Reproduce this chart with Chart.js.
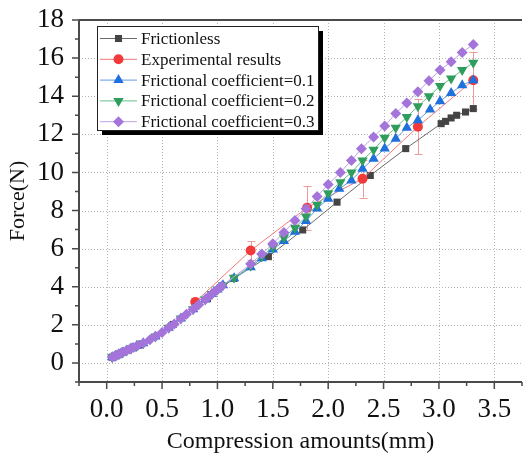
<!DOCTYPE html>
<html>
<head>
<meta charset="utf-8">
<script src="https://cdn.jsdelivr.net/npm/chart.js@4/dist/chart.umd.min.js"></script>
<style>
  html, body { margin: 0; padding: 0; background: #fff; overflow: hidden; }
  #wrap { width: 528px; height: 457px; }
</style>
</head>
<body>
<div id="wrap"><canvas id="forceChart" width="528" height="457"></canvas></div>
<script>
// ---- data ----
const seriesNames = [
  'Frictionless',
  'Experimental results',
  'Frictional coefficient=0.1',
  'Frictional coefficient=0.2',
  'Frictional coefficient=0.3'
];

const frictionlessX = [0.05, 0.30, 0.60, 0.91, 1.15, 1.46, 1.77, 2.08, 2.38, 2.70, 3.02, 3.06, 3.11, 3.16, 3.24, 3.31];
const frictionlessY = [0.30, 0.95, 2.02, 3.38, 4.44, 5.58, 6.98, 8.44, 9.84, 11.25, 12.56, 12.68, 12.86, 13.00, 13.17, 13.35];

const expX = [0.80, 1.30, 1.81, 2.31, 2.81, 3.31];
const expY = [3.20, 5.90, 8.15, 9.67, 12.40, 14.84];
const expErr = [0.20, 0.50, 1.15, 1.00, 1.45, 1.50];

const mu01X = [0.05, 0.08, 0.11, 0.14, 0.18, 0.22, 0.27, 0.33, 0.44, 0.56, 0.67, 0.78, 0.89, 0.95, 1.00, 1.05, 1.15,
  1.30, 1.40, 1.50, 1.60, 1.70, 1.80, 1.90, 2.00, 2.10, 2.21, 2.31, 2.41, 2.51, 2.61, 2.71, 2.81, 2.92, 3.01, 3.11, 3.21, 3.31];
const mu01Y = [0.30, 0.38, 0.46, 0.54, 0.65, 0.76, 0.89, 1.04, 1.39, 1.85, 2.33, 2.82, 3.33, 3.62, 3.86, 4.08, 4.45,
  5.02, 5.50, 5.95, 6.40, 6.88, 7.45, 8.10, 8.62, 9.14, 9.58, 10.19, 10.72, 11.25, 11.77, 12.35, 12.74, 13.30, 13.74, 14.17, 14.58, 14.84];

const mu02X = [0.05, 0.08, 0.11, 0.14, 0.18, 0.22, 0.27, 0.33, 0.44, 0.56, 0.67, 0.78, 0.89, 0.95, 1.00, 1.05, 1.15,
  1.30, 1.40, 1.50, 1.60, 1.70, 1.80, 1.90, 2.00, 2.11, 2.21, 2.31, 2.41, 2.51, 2.61, 2.71, 2.81, 2.91, 3.01, 3.11, 3.21, 3.31];
const mu02Y = [0.30, 0.38, 0.46, 0.54, 0.65, 0.76, 0.89, 1.04, 1.39, 1.85, 2.33, 2.82, 3.33, 3.62, 3.86, 4.08, 4.47,
  5.10, 5.60, 6.08, 6.58, 7.10, 7.68, 8.30, 8.91, 9.49, 10.00, 10.63, 11.19, 11.82, 12.35, 12.91, 13.47, 14.00, 14.53, 14.93, 15.37, 15.75];

const mu03X = [0.05, 0.07, 0.09, 0.11, 0.13, 0.15, 0.18, 0.21, 0.24, 0.28, 0.33, 0.39, 0.44, 0.50, 0.56, 0.61, 0.67, 0.72,
  0.78, 0.83, 0.89, 0.92, 0.95, 0.98, 1.01, 1.04,
  1.30, 1.40, 1.50, 1.60, 1.70, 1.80, 1.90, 2.00, 2.11, 2.21, 2.30, 2.41, 2.51, 2.61, 2.71, 2.81, 2.91, 3.01, 3.11, 3.21, 3.31];
const mu03Y = [0.30, 0.35, 0.41, 0.46, 0.52, 0.57, 0.65, 0.73, 0.81, 0.91, 1.04, 1.22, 1.39, 1.60, 1.85, 2.05, 2.33, 2.56,
  2.82, 3.06, 3.33, 3.48, 3.62, 3.76, 3.90, 4.04,
  5.19, 5.72, 6.25, 6.85, 7.47, 8.09, 8.74, 9.37, 10.00, 10.63, 11.24, 11.86, 12.44, 13.09, 13.65, 14.23, 14.81, 15.37, 15.81, 16.30, 16.72];

const xTicks = [0, 0.5, 1.0, 1.5, 2.0, 2.5, 3.0, 3.5];
const xTickLabels = ['0.0', '0.5', '1.0', '1.5', '2.0', '2.5', '3.0', '3.5'];
const yTicks = [0, 2, 4, 6, 8, 10, 12, 14, 16, 18];

// ---- styles ----
const FONT = "'Liberation Serif', 'Times New Roman', serif";
const AXIS_COLOR = '#4a4a4a';
const GRID_COLOR = '#b4b4b4';
const styles = [
  { marker: 'rect',     fill: '#444444', line: '#6a6a6a', radius: 5,   rot: 0 },
  { marker: 'circle',   fill: '#f23a3a', line: '#f07878', radius: 5,   rot: 0 },
  { marker: 'triangle', fill: '#1f6fdc', line: '#5f9be6', radius: 6,   rot: 0 },
  { marker: 'triangle', fill: '#2f9d5c', line: '#68bd8c', radius: 6,   rot: 180 },
  { marker: 'rectRot',  fill: '#a574da', line: '#c0a0e6', radius: 5.5, rot: 0 }
];

function pts(xs, ys) {
  return xs.map((x, i) => ({ x: x, y: ys[i] }));
}

const allData = [
  pts(frictionlessX, frictionlessY),
  pts(expX, expY),
  pts(mu01X, mu01Y),
  pts(mu02X, mu02Y),
  pts(mu03X, mu03Y)
];

const datasets = allData.map((d, i) => ({
  label: seriesNames[i],
  data: d,
  showLine: true,
  borderColor: styles[i].line,
  borderWidth: 1,
  backgroundColor: styles[i].fill,
  pointStyle: styles[i].marker,
  pointRadius: styles[i].radius,
  pointRotation: styles[i].rot,
  pointBackgroundColor: styles[i].fill,
  pointBorderColor: styles[i].fill,
  pointBorderWidth: 0,
  order: 5 - i
}));

// dotted grid drawn from the scales, under everything
const dottedGrid = {
  id: 'dottedGrid',
  beforeDatasetsDraw(chart) {
    const ctx = chart.ctx;
    const a = chart.chartArea;
    ctx.save();
    ctx.strokeStyle = GRID_COLOR;
    ctx.lineWidth = 1;
    ctx.setLineDash([1, 2]);
    ctx.beginPath();
    xTicks.forEach(v => {
      const px = Math.round(chart.scales.x.getPixelForValue(v)) + 0.5;
      ctx.moveTo(px, a.top); ctx.lineTo(px, a.bottom);
    });
    yTicks.forEach(v => {
      const py = Math.round(chart.scales.y.getPixelForValue(v)) + 0.5;
      ctx.moveTo(a.left, py); ctx.lineTo(a.right, py);
    });
    ctx.stroke();
    ctx.restore();
  }
};

// error bars of the experimental results, under the markers
const errorBars = {
  id: 'errorBars',
  beforeDatasetsDraw(chart) {
    const ctx = chart.ctx;
    const ys = chart.scales.y;
    const meta = chart.getDatasetMeta(1);
    ctx.save();
    ctx.strokeStyle = '#f29a9a';
    ctx.lineWidth = 1;
    meta.data.forEach((p, i) => {
      const top = ys.getPixelForValue(expY[i] + expErr[i]);
      const bot = ys.getPixelForValue(expY[i] - expErr[i]);
      const x = Math.round(p.x) + 0.5;
      ctx.beginPath();
      ctx.moveTo(x, top); ctx.lineTo(x, bot);
      ctx.moveTo(x - 4, Math.round(top) + 0.5); ctx.lineTo(x + 4, Math.round(top) + 0.5);
      ctx.moveTo(x - 4, Math.round(bot) + 0.5); ctx.lineTo(x + 4, Math.round(bot) + 0.5);
      ctx.stroke();
    });
    ctx.restore();
  }
};

function drawMarker(ctx, s, x, y) {
  ctx.fillStyle = s.fill;
  ctx.beginPath();
  const r = s.radius;
  if (s.marker === 'rect') {
    const h = r * Math.SQRT1_2;
    ctx.rect(x - h, y - h, 2 * h, 2 * h);
  } else if (s.marker === 'circle') {
    ctx.arc(x, y, r, 0, Math.PI * 2);
  } else if (s.marker === 'triangle') {
    const dir = s.rot === 180 ? -1 : 1;
    ctx.moveTo(x, y - dir * r);
    ctx.lineTo(x + r * 0.866, y + dir * r * 0.5);
    ctx.lineTo(x - r * 0.866, y + dir * r * 0.5);
    ctx.closePath();
  } else {
    ctx.moveTo(x, y - r); ctx.lineTo(x + r, y); ctx.lineTo(x, y + r); ctx.lineTo(x - r, y);
    ctx.closePath();
  }
  ctx.fill();
}

// axes frame, tick marks and the boxed legend
const frame = {
  id: 'frame',
  afterDraw(chart) {
    const ctx = chart.ctx;
    const a = chart.chartArea;
    const xs = chart.scales.x, ys = chart.scales.y;
    ctx.save();
    ctx.strokeStyle = AXIS_COLOR;
    ctx.lineWidth = 2;
    ctx.beginPath();
    ctx.moveTo(a.left, a.top); ctx.lineTo(a.right, a.top);
    ctx.moveTo(a.left, a.top); ctx.lineTo(a.left, a.bottom);
    ctx.moveTo(a.left - 1, a.bottom); ctx.lineTo(a.right, a.bottom);
    ctx.stroke();

    ctx.lineWidth = 1.5;
    ctx.beginPath();
    for (let v = -0.25; v <= 3.76; v += 0.25) {
      const px = xs.getPixelForValue(v);
      const major = Math.abs(v * 2 - Math.round(v * 2)) < 1e-6;
      ctx.moveTo(px, a.bottom); ctx.lineTo(px, a.bottom + (major ? 7 : 4));
    }
    for (let v = -1; v <= 18; v += 1) {
      const py = ys.getPixelForValue(v);
      const major = v % 2 === 0;
      ctx.moveTo(a.left, py); ctx.lineTo(a.left - (major ? 7 : 4), py);
    }
    ctx.stroke();

    // legend box with shadow
    const bx = 97, by = 26, bw = 221, bh = 104;
    ctx.fillStyle = '#000';
    ctx.fillRect(bx + 5, by + 5, bw, bh);
    ctx.fillStyle = '#fff';
    ctx.fillRect(bx, by, bw, bh);
    ctx.strokeStyle = '#222';
    ctx.lineWidth = 1;
    ctx.strokeRect(bx + 0.5, by + 0.5, bw, bh);

    ctx.font = '17px ' + FONT;
    ctx.textBaseline = 'middle';
    ctx.textAlign = 'left';
    seriesNames.forEach((name, i) => {
      const y = 38.5 + i * 20.8;
      ctx.strokeStyle = styles[i].line;
      ctx.lineWidth = 1;
      ctx.beginPath();
      ctx.moveTo(100, y); ctx.lineTo(137, y);
      ctx.stroke();
      drawMarker(ctx, styles[i], 118.5, y);
      ctx.fillStyle = '#111';
      ctx.fillText(name, 141, y + 1);
    });
    ctx.restore();
  }
};

new Chart(document.getElementById('forceChart'), {
  type: 'scatter',
  data: { datasets: datasets },
  options: {
    responsive: false,
    animation: false,
    layout: { padding: { top: 20, right: -1, left: 0, bottom: 0 } },
    plugins: { legend: { display: false }, tooltip: { enabled: false } },
    scales: {
      x: {
        type: 'linear',
        min: -0.25,
        max: 3.75,
        afterBuildTicks: s => { s.ticks = xTicks.map(v => ({ value: v })); },
        afterFit: s => { s.height = 75; s.paddingLeft = 0; s.paddingRight = 0; },
        grid: { display: false },
        border: { display: false },
        ticks: {
          padding: 4,
          color: '#111',
          font: { family: FONT, size: 27 },
          callback: (v, i) => xTickLabels[i]
        },
        title: {
          display: true,
          text: 'Compression amounts(mm)',
          color: '#111',
          font: { family: FONT, size: 24 },
          padding: { top: 0, bottom: 1 }
        }
      },
      y: {
        type: 'linear',
        min: -1,
        max: 18,
        afterBuildTicks: s => { s.ticks = yTicks.map(v => ({ value: v })); },
        afterFit: s => { s.width = 79; s.paddingTop = 0; s.paddingBottom = 0; },
        grid: { display: false },
        border: { display: false },
        ticks: {
          padding: 7,
          color: '#111',
          font: { family: FONT, size: 27 },
          callback: v => String(v)
        },
        title: {
          display: true,
          text: 'Force(N)',
          color: '#111',
          font: { family: FONT, size: 22 },
          padding: { top: 5, bottom: 0 }
        }
      }
    }
  },
  plugins: [dottedGrid, errorBars, frame]
});
</script>
</body>
</html>
